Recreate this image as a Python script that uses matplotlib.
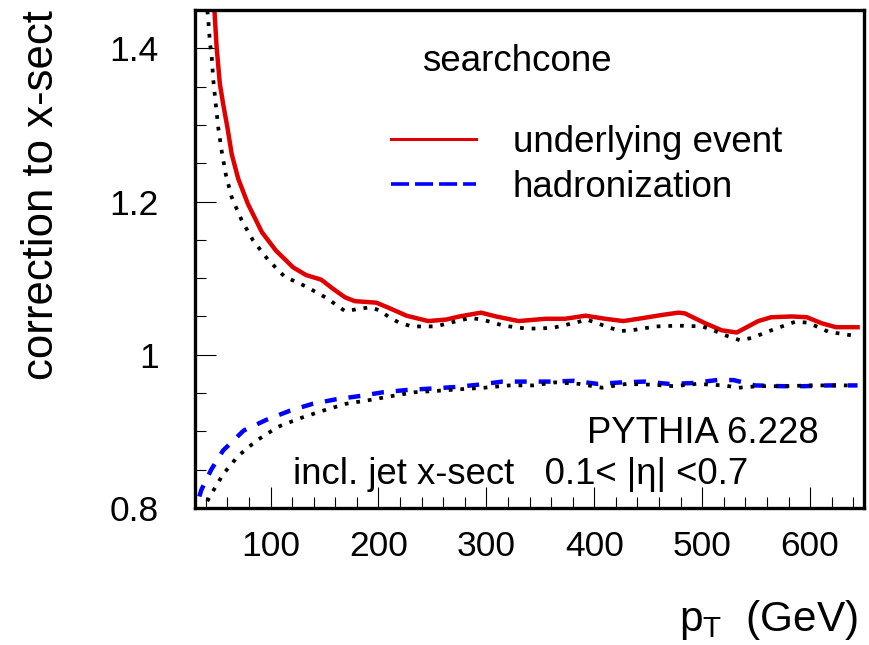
import matplotlib
matplotlib.use("Agg")
import matplotlib.pyplot as plt
from matplotlib.lines import Line2D
from matplotlib.ticker import MultipleLocator, FuncFormatter

plt.rcParams['font.family'] = ['Liberation Sans', 'DejaVu Sans']
plt.rcParams['mathtext.default'] = 'regular'
plt.rcParams['lines.scale_dashes'] = False

# ===== values =====
# underlying event correction (red, solid)
ue_pt   = [46, 48, 50, 53, 56, 60, 64, 70, 79, 92, 105, 121, 133, 147, 158, 169, 178,
           198, 210, 226, 246, 263, 275, 295, 309, 330, 355, 373, 392, 410, 427, 441,
           463, 478, 484, 503, 518, 532, 552, 564, 583, 597, 611, 624, 644]
ue_corr = [1.49, 1.45, 1.402, 1.354, 1.328, 1.297, 1.262, 1.230, 1.197, 1.160, 1.136,
           1.114, 1.104, 1.098, 1.086, 1.075, 1.070, 1.068, 1.061, 1.051, 1.044, 1.046,
           1.050, 1.055, 1.050, 1.044, 1.047, 1.047, 1.051, 1.047, 1.044, 1.047, 1.052,
           1.055, 1.054, 1.041, 1.032, 1.029, 1.044, 1.049, 1.050, 1.049, 1.041, 1.036,
           1.036]

# underlying event, second variant (black, dotted)
ue2_pt   = [40, 42.3, 43.9, 45.4, 46.9, 49.1, 51.5, 54.7, 58.6, 63.9, 73.1, 83.9, 97.7,
            113, 133, 152, 169, 192, 201, 210, 219, 231, 253, 273, 285, 296, 316, 338,
            361, 383, 393, 413, 424, 435, 457, 478, 500, 512, 524, 535, 546, 566, 586,
            598, 617, 640]
ue2_corr = [1.47, 1.437, 1.406, 1.391, 1.359, 1.329, 1.297, 1.266, 1.235, 1.206, 1.176,
            1.149, 1.124, 1.102, 1.089, 1.074, 1.057, 1.062, 1.058, 1.049, 1.042, 1.037,
            1.037, 1.044, 1.048, 1.046, 1.038, 1.034, 1.035, 1.042, 1.046, 1.036, 1.031,
            1.032, 1.037, 1.038, 1.037, 1.031, 1.024, 1.019, 1.022, 1.033, 1.043, 1.042,
            1.030, 1.025]

# hadronization correction (blue, dashed)
had_pt   = [34, 36, 45, 56, 75, 96, 118, 139, 161, 182, 204, 226, 250, 272, 293, 315,
            338, 360, 381, 403, 426, 447, 469, 490, 514, 529, 549, 574, 595, 617, 644]
had_corr = [0.815, 0.824, 0.850, 0.875, 0.901, 0.915, 0.927, 0.936, 0.942, 0.946, 0.951,
            0.954, 0.956, 0.958, 0.961, 0.965, 0.965, 0.965, 0.966, 0.962, 0.964, 0.965,
            0.962, 0.963, 0.967, 0.967, 0.960, 0.959, 0.959, 0.960, 0.960]

# hadronization, second variant (black, dotted)
had2_pt   = [37, 39, 45, 56, 70, 87, 107, 127, 148.5, 170, 192, 212, 233, 255, 276, 298,
             321, 343, 364, 386, 407, 430, 452, 474, 495, 520, 534, 552, 575, 600, 620, 642]
had2_corr = [0.795, 0.803, 0.818, 0.844, 0.868, 0.888, 0.906, 0.917, 0.927, 0.936, 0.941,
             0.946, 0.951, 0.953, 0.955, 0.957, 0.960, 0.960, 0.964, 0.962, 0.957, 0.962,
             0.961, 0.959, 0.962, 0.960, 0.957, 0.959, 0.959, 0.960, 0.960, 0.960]

RED  = "#e00000"
BLUE = "#0000ff"

fig = plt.figure(figsize=(8.69, 6.45), dpi=100)
ax = fig.add_axes([0.2244, 0.2124, 0.7699, 0.7721])

ax.plot(ue_pt, ue_corr, color=RED, lw=3.2, solid_joinstyle="round")
ax.plot(had_pt, had_corr, color=BLUE, lw=3.2, dashes=(8.6, 8.6), dash_capstyle="butt")
ax.plot(ue2_pt, ue2_corr, color="black", lw=2.7, dashes=(2.7, 5.7), dash_capstyle="butt")
ax.plot(had2_pt, had2_corr, color="black", lw=2.7, dashes=(2.7, 5.7), dash_capstyle="butt")

ax.set_xlim(30, 650)
ax.set_ylim(0.8, 1.45)

# --- axes / ticks (ROOT style) ---
for s in ax.spines.values():
    s.set_linewidth(2.4)
ax.xaxis.set_major_locator(MultipleLocator(100))
ax.xaxis.set_minor_locator(MultipleLocator(20))
ax.yaxis.set_major_locator(MultipleLocator(0.2))
ax.yaxis.set_minor_locator(MultipleLocator(0.05))
ax.yaxis.set_major_formatter(FuncFormatter(lambda v, p: f"{v:g}"))
ax.tick_params(which="both", direction="in", top=False, right=False, width=0.8,
               labelsize=25.5)
ax.tick_params(which="major", length=15)
ax.tick_params(which="minor", length=8)
ax.tick_params(axis="x", which="major", pad=16)
ax.tick_params(axis="y", which="major", pad=26)

ax.set_ylabel("correction to x-sect", fontsize=31.5, loc="top", labelpad=34)
# x title, right-aligned under the axis end (ROOT style)
fig.text(858 / 869, 0.022, "p$_{T}$  (GeV)", fontsize=30.5, ha="right", va="baseline")

# --- legend + annotations ---
ax.text(0.339, 0.8775, "searchcone", transform=ax.transAxes, fontsize=26.5, va="baseline")
handles = [Line2D([], [], color=RED, lw=2.2),
           Line2D([], [], color=BLUE, lw=2.6, dashes=(13, 4.3), dash_capstyle="butt")]
ax.legend(handles, ["underlying event", "hadronization"], loc="upper left",
          bbox_to_anchor=(0.293, 0.769), frameon=False, fontsize=26.5, borderpad=0,
          borderaxespad=0, handlelength=2.31, handletextpad=1.0, labelspacing=0.28)

ax.text(0.9327, 0.1313, "PYTHIA 6.228", transform=ax.transAxes, fontsize=26.3,
        ha="right", va="baseline")
ax.text(0.1465, 0.0474, "incl. jet x-sect   0.1< |\u03b7| <0.7", transform=ax.transAxes,
        fontsize=26.3, ha="left", va="baseline")

fig.savefig("out.png", dpi=100)
